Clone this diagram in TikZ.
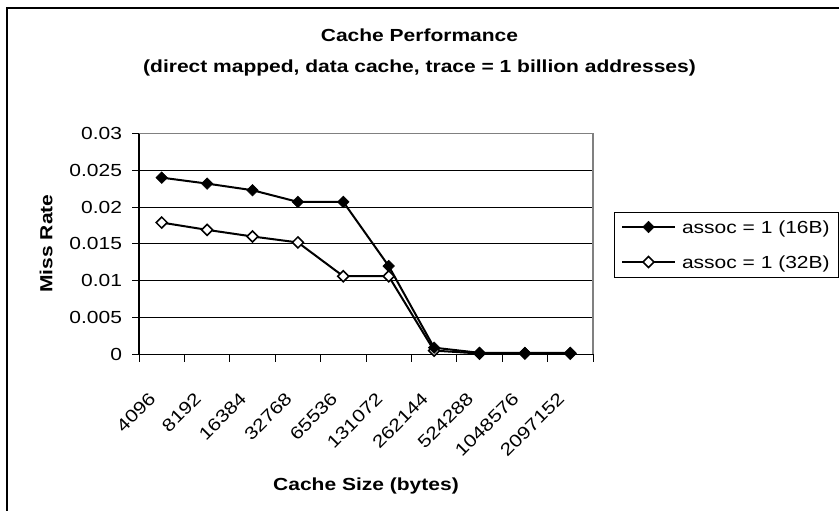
\documentclass[tikz,border=0pt]{standalone}
\usepackage{fontspec}
\setmainfont[FakeStretch=1.2]{Liberation Sans}
\usetikzlibrary{shapes.geometric}
\begin{document}
\begin{tikzpicture}[x=1pt,y=-1pt,
  every node/.style={inner sep=0pt, outer sep=0pt, font=\fontsize{17.5}{20}\selectfont},
  ttl/.style={font=\fontsize{17.5}{20}\selectfont\bfseries},
  frameline/.style={line width=1.6pt, black},
  gridline/.style={line width=0.9pt, black},
  plotborder/.style={line width=1.5pt, gray},
  axisline/.style={line width=1.3pt, black},
  tickline/.style={line width=1pt, black},
  series/.style={line width=2pt, black, line join=round},
  fmark/.style={diamond, aspect=1, minimum size=11.5pt, fill=black, draw=black, line width=0.6pt},
  omark/.style={diamond, aspect=1, minimum size=11pt, fill=white, draw=black, line width=1.5pt},
  legbox/.style={draw=black, line width=0.9pt, minimum width=224pt, minimum height=65pt}
]
\useasboundingbox (0,0) rectangle (839,511);
\fill[white] (0,0) rectangle (839,511);
\draw[frameline] (7,511) -- (7,8) -- (839,8);

\node[ttl, anchor=base] (title1) at (419.5,42) {Cache Performance};
\node[ttl, anchor=base] (title2) at (419.5,73) {(direct mapped, data cache, trace = 1 billion addresses)};
\node[ttl, rotate=90] (ytitle) at (46,243.5) {Miss Rate};
\node[ttl, anchor=base] (xtitle) at (366,490) {Cache Size (bytes)};

\begin{scope}[shift={(139,354.3)}, x=45.4pt, y=7360pt]
  \foreach \v in {0.005,0.01,0.015,0.02,0.025}
    \draw[gridline] (0,\v) -- (10,\v);
  \draw[plotborder] (0,0.03) -- (10,0.03) -- (10,0);
  \draw[axisline] (0,0.03) -- (0,0) -- (10,0);
  \foreach \v/\t [count=\k] in {0/0,0.005/0.005,0.01/0.01,0.015/0.015,0.02/0.02,0.025/0.025,0.03/0.03}{
    \draw[tickline] (0,\v) -- ++(-7pt,0);
    \node[anchor=east] (yl\k) at ([xshift=-17pt]0,\v) {\t};
  }
  \foreach \i in {0,...,10}
    \draw[tickline] (\i,0) -- ++(0,-7.5pt);
  \foreach \v [count=\i] in {0.0240,0.0232,0.0223,0.0207,0.0207,0.0120,0.0009,0.0002,0.0002,0.0002}
    \coordinate (a\i) at (\i-0.5,\v);
  \foreach \v [count=\i] in {0.0179,0.0169,0.0160,0.0152,0.0106,0.0106,0.0005,0.0001,0.0001,0.0001}
    \coordinate (b\i) at (\i-0.5,\v);
\end{scope}

\draw[series] (b1) \foreach \i in {2,...,10}{ -- (b\i)};
\foreach \i in {1,...,10} \node[omark] (mb\i) at (b\i) {};
\draw[series] (a1) \foreach \i in {2,...,10}{ -- (a\i)};
\foreach \i in {1,...,10} \node[fmark] (ma\i) at (a\i) {};

\foreach \lab [count=\i] in {4096,8192,16384,32768,65536,131072,262144,524288,1048576,2097152}
  \node[anchor=base east, rotate=45] (xl\i) at ({139+45.4*(\i-0.5)-5},400) {\lab};

\node[legbox] (legend) at (726,244.5) {};
\coordinate (l1s) at (622,227); \coordinate (l1e) at (675,227);
\coordinate (l2s) at (622,262); \coordinate (l2e) at (675,262);
\draw[series] (l1s) -- (l1e);
\node[fmark] (lm1) at (648.5,227) {};
\draw[series] (l2s) -- (l2e);
\node[omark] (lm2) at (648.5,262) {};
\node[anchor=base west] (lt1) at (682,233.2) {assoc = 1 (16B)};
\node[anchor=base west] (lt2) at (682,268.2) {assoc = 1 (32B)};
\end{tikzpicture}
\end{document}
